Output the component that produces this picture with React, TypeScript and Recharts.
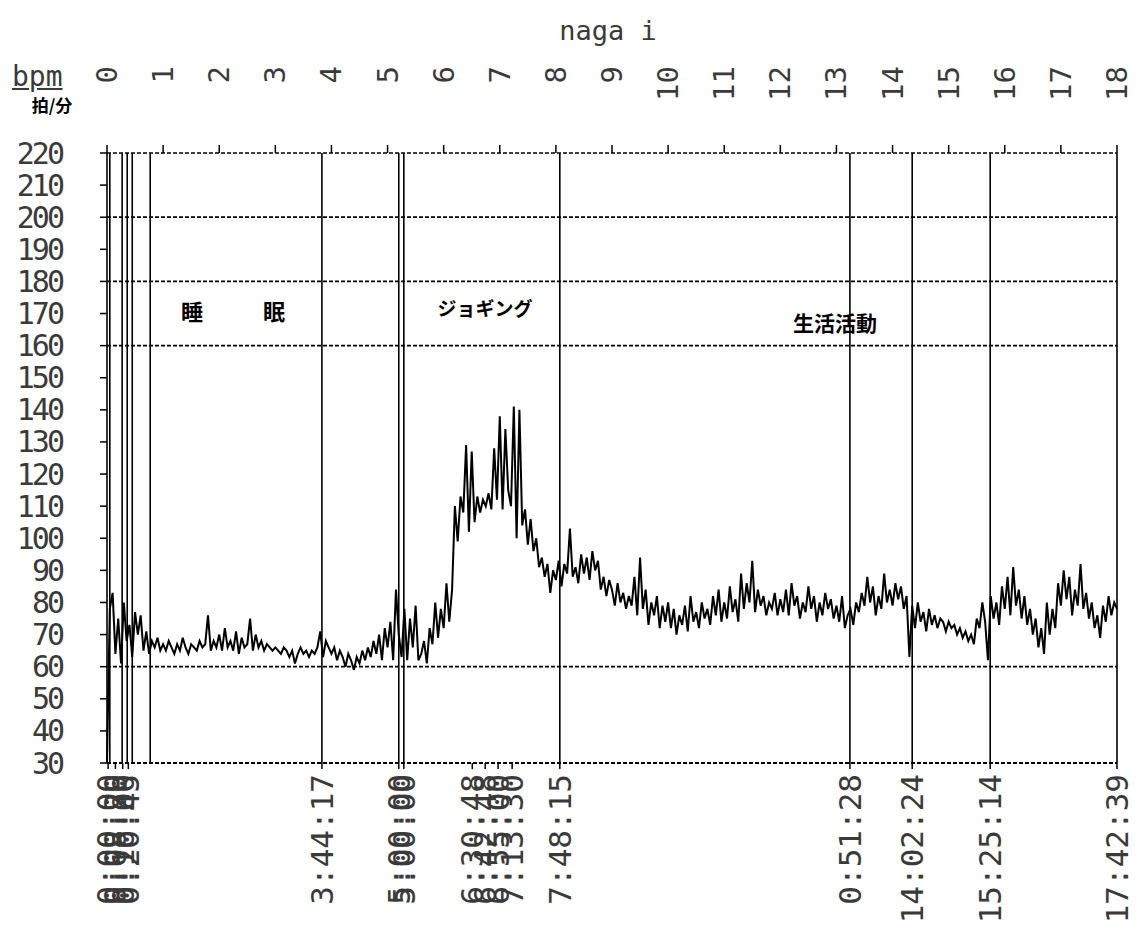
import React from "react";
import {
  LineChart,
  Line,
  XAxis,
  YAxis,
  ReferenceLine,
} from "recharts";

// hours shown along the top edge
const HOURS = [0, 1, 2, 3, 4, 5, 6, 7, 8, 9, 10, 11, 12, 13, 14, 15, 16, 17, 18];

// bpm scale
const BPM_TICKS = [30, 40, 50, 60, 70, 80, 90, 100, 110, 120, 130, 140, 150, 160, 170, 180, 190, 200, 210, 220];
const DASHED_LEVELS = [200, 180, 160, 60];

// event marks (hours) and their printed times along the bottom
const EVENT_TIMES = [0.02, 0.15, 0.28, 0.38, 3.83, 5.2, 5.29, 6.51, 6.74, 6.97, 7.22, 8.07, 13.24, 14.35, 15.74, 18];
const EVENT_LABELS = [
  "0:00:00", "0:08:20", "0:16:00", "0:20:45", "3:44:17", "5:00:00", "5:00:00",
  "6:30:48", "6:42:48", "6:55:00", "7:13:30", "7:48:15", "0:51:28", "14:02:24",
  "15:25:14", "17:42:39",
];
const MARKER_LINES = [0.05, 0.27, 0.36, 0.45, 0.77, 3.83, 5.2, 5.29, 8.07, 13.24, 14.35, 15.74];

// heart rate, one reading every 3 minutes (0.05 h)
const SAMPLE_STEP_H = 0.05;
const HEART_RATE = [
  // 0h
  30, 78, 83, 64, 75, 61, 80, 68, 73, 63, 77, 70, 76, 65, 71, 64, 68, 66, 69, 65,
  // 1h
  67, 65, 68, 66, 64, 67, 65, 69, 66, 64, 67, 66, 65, 68, 66, 67, 76, 65, 68, 66,
  // 2h
  70, 65, 72, 66, 68, 65, 71, 64, 69, 66, 67, 75, 65, 70, 66, 68, 65, 67, 66, 65,
  // 3h
  66, 65, 64, 66, 65, 63, 65, 61, 64, 66, 64, 65, 63, 65, 64, 66, 71, 63, 68, 66,
  // 4h
  64, 66, 62, 65, 63, 60, 64, 62, 59, 63, 61, 65, 62, 66, 63, 68, 64, 70, 62, 72,
  // 5h
  66, 74, 62, 84, 70, 63, 78, 62, 75, 66, 79, 62, 64, 68, 61, 72, 67, 80, 69, 78,
  // 6h
  72, 86, 74, 84, 110, 99, 113, 108, 129, 102, 127, 105, 113, 108, 112, 110, 114, 109, 128, 112,
  // 7h
  138, 109, 134, 115, 110, 141, 100, 140, 104, 109, 98, 106, 96, 100, 91, 94, 88, 92, 83, 90,
  // 8h
  87, 93, 85, 92, 89, 103, 88, 91, 86, 95, 89, 94, 87, 96, 90, 93, 84, 88, 82, 87,
  // 9h
  84, 79, 86, 80, 83, 78, 82, 79, 88, 76, 94, 78, 84, 73, 80, 76, 82, 72, 79, 74,
  // 10h
  80, 72, 78, 70, 76, 73, 79, 71, 82, 74, 77, 72, 80, 75, 78, 73, 82, 76, 84, 74,
  // 11h
  80, 75, 85, 77, 81, 74, 89, 78, 86, 80, 93, 77, 84, 79, 82, 76, 80, 78, 83, 76,
  // 12h
  81, 77, 84, 76, 86, 79, 82, 75, 80, 77, 85, 78, 82, 74, 80, 76, 83, 78, 81, 75,
  // 13h
  79, 74, 82, 72, 76, 78, 73, 80, 77, 83, 79, 88, 80, 85, 76, 82, 78, 89, 80, 84,
  // 14h
  79, 86, 81, 85, 78, 82, 63, 79, 72, 80, 74, 77, 71, 78, 73, 76, 72, 75, 74, 71,
  // 15h
  74, 72, 73, 70, 72, 69, 71, 68, 70, 67, 75, 72, 80, 74, 62, 82, 75, 80, 73, 85,
  // 16h
  78, 88, 76, 91, 79, 84, 75, 82, 73, 78, 70, 75, 66, 72, 64, 80, 70, 78, 72, 86,
  // 17h
  79, 90, 81, 88, 76, 84, 79, 92, 78, 83, 75, 80, 72, 76, 69, 79, 74, 82, 76, 80,
  78,
];

const MONO = "'DejaVu Sans Mono', monospace";
const CJK = "'Noto Sans CJK JP', sans-serif";
const INK = "#3a3a3a";

const HourTick = (props: any) => {
  const { x, y, payload } = props;
  return (
    <text
      x={x}
      y={y}
      transform={`rotate(-90 ${x} ${y})`}
      textAnchor="end"
      dominantBaseline="central"
      fontFamily={MONO}
      fontSize={29}
      fill={INK}
    >
      {payload.value}
    </text>
  );
};

const EventTick = (props: any) => {
  const { x, y, payload } = props;
  const idx = EVENT_TIMES.indexOf(payload.value);
  return (
    <text
      x={x}
      y={y}
      transform={`rotate(-90 ${x} ${y})`}
      textAnchor="end"
      dominantBaseline="central"
      fontFamily={MONO}
      fontSize={31}
      fill={INK}
    >
      {idx >= 0 ? EVENT_LABELS[idx] : ""}
    </text>
  );
};

const BpmTick = (props: any) => {
  const { x, y, payload } = props;
  return (
    <text
      x={x}
      y={y}
      textAnchor="end"
      dominantBaseline="central"
      fontFamily={MONO}
      fontSize={30}
      letterSpacing={-3}
      fill={INK}
    >
      {payload.value}
    </text>
  );
};

const overlay = (left: number, top: number, size: number): React.CSSProperties => ({
  position: "absolute",
  left,
  top,
  transform: "translate(-50%, -50%)",
  fontFamily: CJK,
  fontWeight: 700,
  fontSize: size,
  whiteSpace: "nowrap",
  lineHeight: 1,
  color: "#000",
});

export default function App() {
  const data = HEART_RATE.map((bpm, i) => ({ t: i * SAMPLE_STEP_H, bpm }));

  return (
    <div style={{ position: "relative", width: 1132, height: 918, background: "#fff" }}>
      <LineChart
        width={1132}
        height={918}
        data={data}
        margin={{ top: 45, right: 3, bottom: 13, left: 0 }}
      >
        <XAxis
          xAxisId="top"
          orientation="top"
          type="number"
          dataKey="t"
          domain={[0, 18]}
          ticks={HOURS}
          interval={0}
          height={100}
          tickSize={8}
          tickMargin={79}
          tick={<HourTick />}
          axisLine={{ stroke: "#000", strokeDasharray: "4 2", strokeWidth: 1.6 }}
          tickLine={{ stroke: "#000", strokeWidth: 1.5 }}
        />
        <XAxis
          xAxisId="bottom"
          orientation="bottom"
          type="number"
          dataKey="t"
          domain={[0, 18]}
          ticks={EVENT_TIMES}
          interval={0}
          height={150}
          tickSize={6}
          tickMargin={5}
          tick={<EventTick />}
          axisLine={{ stroke: "#000", strokeDasharray: "4 2", strokeWidth: 1.8 }}
          tickLine={{ stroke: "#000", strokeWidth: 1.5 }}
        />
        <YAxis
          yAxisId="left"
          type="number"
          domain={[30, 220]}
          ticks={BPM_TICKS}
          interval={0}
          width={99}
          tickSize={7}
          tickMargin={38}
          tick={<BpmTick />}
          axisLine={{ stroke: "#000", strokeWidth: 1.6 }}
          tickLine={{ stroke: "#000", strokeWidth: 1.5 }}
        />
        <YAxis
          yAxisId="right"
          orientation="right"
          type="number"
          domain={[30, 220]}
          ticks={BPM_TICKS}
          interval={0}
          width={20}
          tickSize={9}
          tick={() => <g />}
          axisLine={{ stroke: "#000", strokeWidth: 1.6 }}
          tickLine={{ stroke: "#000", strokeWidth: 1.5 }}
        />
        {DASHED_LEVELS.map((v) => (
          <ReferenceLine
            key={`h${v}`}
            xAxisId="bottom"
            yAxisId="left"
            y={v}
            stroke="#000"
            strokeWidth={1.8}
            strokeDasharray="4 2"
          />
        ))}
        {MARKER_LINES.map((t) => (
          <ReferenceLine
            key={`v${t}`}
            xAxisId="bottom"
            yAxisId="left"
            x={t}
            stroke="#000"
            strokeWidth={1.6}
          />
        ))}
        <Line
          xAxisId="bottom"
          yAxisId="left"
          type="linear"
          dataKey="bpm"
          stroke="#000"
          strokeWidth={2}
          dot={false}
          isAnimationActive={false}
        />
      </LineChart>

      <div
        style={{
          position: "absolute",
          left: 0,
          top: 9,
          width: 1200,
          textAlign: "center",
          fontFamily: MONO,
          fontSize: 27,
          color: INK,
          lineHeight: 1,
        }}
      >
        naga i
      </div>
      <div
        style={{
          position: "absolute",
          left: 4,
          top: 56,
          fontFamily: MONO,
          fontSize: 28,
          color: INK,
          lineHeight: "26px",
          height: 26,
          textDecoration: "underline",
        }}
      >
        bpm
      </div>
      <div style={overlay(44, 96, 17)}>拍/分</div>
      <div style={overlay(184, 302, 22)}>睡</div>
      <div style={overlay(266, 302, 22)}>眠</div>
      <div style={overlay(477, 299, 19)}>ジョギング</div>
      <div style={overlay(827, 314, 21)}>生活活動</div>
    </div>
  );
}
